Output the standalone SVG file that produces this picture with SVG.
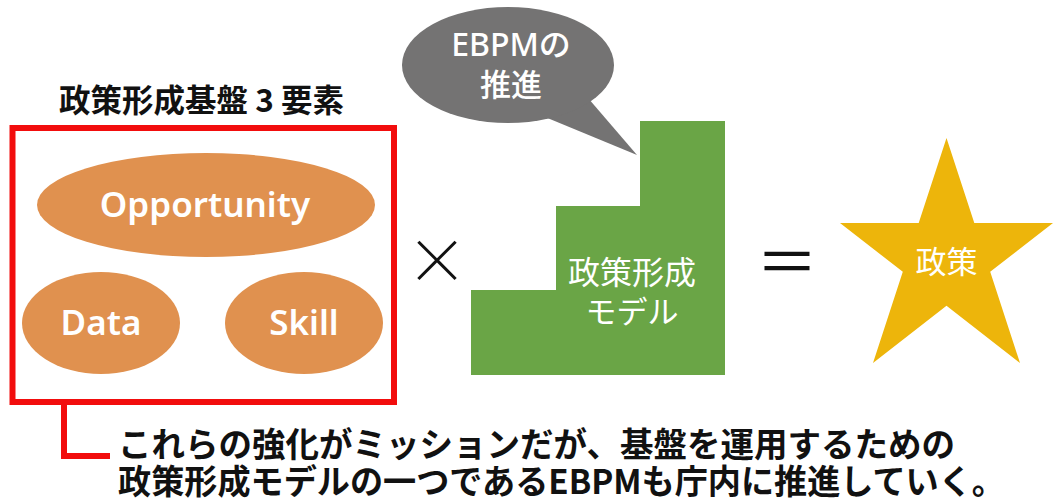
<svg xmlns="http://www.w3.org/2000/svg" width="1054" height="503" viewBox="0 0 1054 503">
<style>
.jp{font-family:"Noto Sans CJK JP","Noto Sans",sans-serif}
.lat{font-family:"Noto Sans","Noto Sans CJK JP",sans-serif}
.w{fill:#ffffff}
.k{fill:#111111}
.orange{fill:#E0914F}
.red{fill:none;stroke:#F20D0D;stroke-width:6}
</style>
<rect width="1054" height="503" fill="#ffffff"/>
<g id="title"><text class="jp k" x="59" y="112" font-size="31.5" font-weight="bold">政策形成基盤 3 要素</text></g>
<g id="elements-box"><rect class="red" x="12.5" y="128" width="381.5" height="274"/></g>
<g id="opportunity"><ellipse class="orange" cx="206" cy="205" rx="169" ry="52"/><text class="lat w" x="205" y="217" font-size="35" font-weight="600" text-anchor="middle">Opportunity</text></g>
<g id="data"><ellipse class="orange" cx="101" cy="323" rx="79" ry="51"/><text class="lat w" x="101" y="335" font-size="35" font-weight="600" text-anchor="middle">Data</text></g>
<g id="skill"><ellipse class="orange" cx="304" cy="323" rx="79" ry="51"/><text class="lat w" x="304" y="335" font-size="35" font-weight="600" text-anchor="middle">Skill</text></g>
<g id="times"><text class="jp k" x="437" y="284" font-size="62" font-weight="300" text-anchor="middle">×</text></g>
<g id="bubble"><polygon fill="#747373" points="588,98 637,155 545,117"/><ellipse fill="#747373" cx="508" cy="65" rx="106" ry="58"/><text class="lat w" x="511" y="56" font-size="32" font-weight="500" text-anchor="middle">EBPMの</text><text class="jp w" x="511" y="96" font-size="31" font-weight="500" text-anchor="middle">推進</text></g>
<g id="model"><polygon fill="#6AA546" points="640,121 725,121 725,375 471,375 471,290 556,290 556,206 640,206"/><text class="jp w" x="632" y="284" font-size="32" text-anchor="middle">政策形成</text><text class="jp w" x="632" y="323" font-size="31" text-anchor="middle">モデル</text></g>
<g id="equals"><text class="jp k" x="787" y="285" font-size="62" text-anchor="middle">＝</text></g>
<g id="policy"><polygon fill="#EDB50B" points="946.5,138 974.3,223 1053,223 990.2,271.8 1020,363 946.5,305.8 873,363 902.8,271.8 840,223 918.7,223"/><text class="jp w" x="946.5" y="273" font-size="31" text-anchor="middle">政策</text></g>
<g id="connectors"><path class="red" d="M64 402 V456 H110"/></g>
<g id="note"><text class="jp k" x="118" y="457" font-size="34" font-weight="bold" textLength="837" lengthAdjust="spacingAndGlyphs">これらの強化がミッションだが、基盤を運用するための</text><text class="jp k" x="118" y="494" font-size="34" font-weight="bold" textLength="887" lengthAdjust="spacingAndGlyphs">政策形成モデルの一つであるEBPMも庁内に推進していく。</text></g>
</svg>
